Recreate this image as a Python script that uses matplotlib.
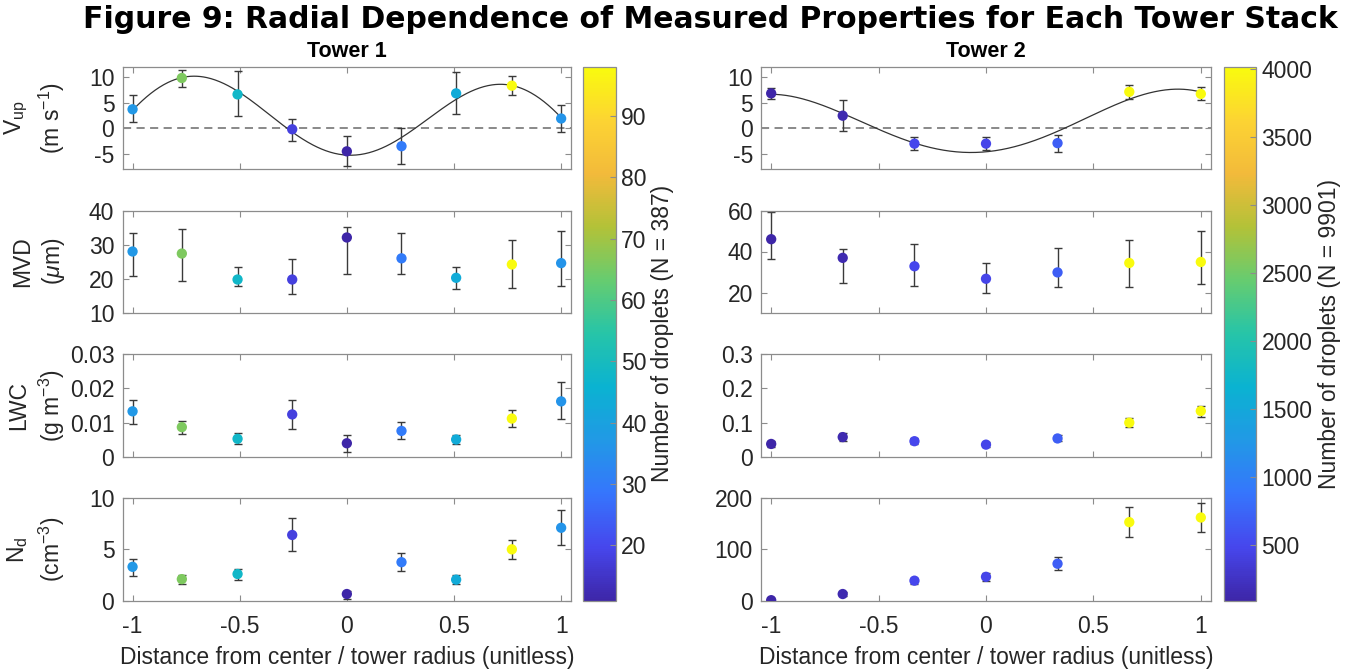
import numpy as np
import matplotlib
matplotlib.use("Agg")
import matplotlib.pyplot as plt
from matplotlib.colors import LinearSegmentedColormap

plt.rcParams['font.family'] = ['Liberation Sans', 'DejaVu Sans']
plt.rcParams['mathtext.fontset'] = 'custom'
plt.rcParams['mathtext.rm'] = 'Liberation Sans'
plt.rcParams['mathtext.it'] = 'Liberation Sans:italic'

# ---------------- data ----------------
x1 = [-1.0, -0.77, -0.51, -0.255, 0.0, 0.255, 0.51, 0.77, 1.0]
n1 = [37, 66, 48, 18, 11, 30, 43, 98, 36]
vup1 = [3.7, 9.8, 6.6, -0.2, -4.5, -3.5, 6.8, 8.3, 1.9]
vup1_lo = [1.3, 8.1, 2.4, -2.4, -7.4, -6.9, 2.7, 6.5, -0.7]
vup1_hi = [6.4, 11.4, 11.1, 1.8, -1.5, 0.1, 11.0, 10.1, 4.5]
mvd1 = [28.0, 27.4, 19.8, 19.8, 32.1, 26.0, 20.3, 24.2, 24.6]
mvd1_lo = [20.8, 19.3, 17.9, 15.6, 21.3, 21.4, 17.0, 17.2, 18.0]
mvd1_hi = [33.5, 34.5, 23.6, 25.9, 35.1, 33.5, 23.6, 31.3, 33.9]
lwc1 = [0.0133, 0.0087, 0.0053, 0.0124, 0.0040, 0.0076, 0.0051, 0.0112, 0.0162]
lwc1_lo = [0.0096, 0.0067, 0.0038, 0.0083, 0.0015, 0.0053, 0.0038, 0.0086, 0.0110]
lwc1_hi = [0.0166, 0.0106, 0.0070, 0.0166, 0.0065, 0.0101, 0.0065, 0.0138, 0.0218]
nd1 = [3.3, 2.1, 2.6, 6.4, 0.65, 3.75, 2.05, 5.0, 7.1]
nd1_lo = [2.45, 1.6, 2.0, 4.8, 0.15, 2.9, 1.6, 4.05, 5.45]
nd1_hi = [4.1, 2.5, 3.1, 8.1, 0.95, 4.65, 2.5, 5.95, 8.8]

x2 = [-1.0, -0.667, -0.333, 0.0, 0.333, 0.667, 1.0]
n2 = [90, 141, 480, 470, 680, 4020, 4020]
vup2 = [6.8, 2.45, -3.0, -3.0, -2.9, 7.1, 6.7]
vup2_lo = [5.7, -0.5, -4.2, -4.2, -4.6, 5.8, 5.5]
vup2_hi = [7.8, 5.5, -1.8, -1.8, -1.3, 8.4, 8.0]
mvd2 = [46.0, 36.9, 32.8, 26.7, 29.8, 34.4, 34.9]
mvd2_lo = [36.4, 24.6, 23.1, 19.8, 22.8, 22.8, 24.3]
mvd2_hi = [59.5, 41.0, 43.9, 34.6, 41.8, 45.4, 50.1]
lwc2 = [0.038, 0.058, 0.046, 0.036, 0.054, 0.100, 0.134]
lwc2_lo = [0.029, 0.047, 0.038, 0.029, 0.046, 0.087, 0.117]
lwc2_hi = [0.047, 0.069, 0.054, 0.043, 0.064, 0.113, 0.150]
nd2 = [1.0, 13.0, 39.0, 46.5, 72.0, 153.0, 162.0]
nd2_lo = [0.0, 10.0, 32.0, 38.0, 59.0, 125.0, 134.0]
nd2_hi = [2.5, 16.0, 45.0, 54.0, 86.0, 182.0, 190.0]

tower_titles = ["Tower 1", "Tower 2"]
suptitle = "Figure 9: Radial Dependence of Measured Properties for Each Tower Stack"
ylabels = ["V$_{\\mathrm{up}}$\n(m s$^{-1}$)", "MVD\n($\\mathit{\\mu}$m)",
           "LWC\n(g m$^{-3}$)", "N$_{\\mathrm{d}}$\n(cm$^{-3}$)"]
xlabel = "Distance from center / tower radius (unitless)"
cbar_labels = ["Number of droplets (N = 387)", "Number of droplets (N = 9901)"]
ylims1 = [(-8, 12), (10, 40), (0, 0.03), (0, 10)]
yticks1 = [[-5, 0, 5, 10], [10, 20, 30, 40], [0, 0.01, 0.02, 0.03], [0, 5, 10]]
yticklabels1 = [["-5", "0", "5", "10"], ["10", "20", "30", "40"], ["0", "0.01", "0.02", "0.03"], ["0", "5", "10"]]
ylims2 = [(-8, 12), (10, 60), (0, 0.3), (0, 200)]
yticks2 = [[-5, 0, 5, 10], [20, 40, 60], [0, 0.1, 0.2, 0.3], [0, 100, 200]]
yticklabels2 = [["-5", "0", "5", "10"], ["20", "40", "60"], ["0", "0.1", "0.2", "0.3"], ["0", "100", "200"]]
xticks = [-1, -0.5, 0, 0.5, 1]
xticklabels = ["-1", "-0.5", "0", "0.5", "1"]
cticks1 = [20, 30, 40, 50, 60, 70, 80, 90]
cticks2 = [500, 1000, 1500, 2000, 2500, 3000, 3500, 4000]

parula_stops = [(0.2422, 0.1504, 0.6603), (0.2759, 0.2780, 0.9300), (0.2100, 0.4600, 0.9900),
                (0.1300, 0.6000, 0.9000), (0.0400, 0.7000, 0.8200), (0.1500, 0.7700, 0.6600),
                (0.4000, 0.8000, 0.4400), (0.7000, 0.7600, 0.2200), (0.9500, 0.7300, 0.2300),
                (0.9900, 0.8300, 0.2000), (0.9763, 0.9831, 0.0538)]
parula = LinearSegmentedColormap.from_list("parula", parula_stops)


# ------- least-squares sinusoidal fit (offset + slow curvature + sine) -------
def sine_fit(x, y, xx):
    x = np.asarray(x, float)
    y = np.asarray(y, float)
    best = None
    for w in np.linspace(2.0, 6.0, 801):
        design = lambda t: np.column_stack([np.ones_like(t), t, t ** 2,
                                            np.cos(w * t), np.sin(w * t)])
        coef, *_ = np.linalg.lstsq(design(x), y, rcond=None)
        sse = np.sum((design(x) @ coef - y) ** 2)
        if best is None or sse < best[0]:
            best = (sse, design(xx) @ coef)
    return best[1]


W, H = 1349, 671
fig = plt.figure(figsize=(W / 100, H / 100), dpi=100)
spine_c = '#8c8c8c'
text_c = '#262626'
FS = 16.5

rows_px = [(66.7, 169.3), (210.5, 313.0), (354.0, 457.0), (498.0, 600.7)]
cols_px = [(122.7, 571.0), (761.3, 1210.7)]
cbar_px = [(583.3, 615.7), (1224.0, 1256.0)]

towers = [
    dict(x=x1, n=n1, series=[(vup1, vup1_lo, vup1_hi), (mvd1, mvd1_lo, mvd1_hi),
                             (lwc1, lwc1_lo, lwc1_hi), (nd1, nd1_lo, nd1_hi)],
         ylims=ylims1, yticks=yticks1, ytl=yticklabels1, cticks=cticks1),
    dict(x=x2, n=n2, series=[(vup2, vup2_lo, vup2_hi), (mvd2, mvd2_lo, mvd2_hi),
                             (lwc2, lwc2_lo, lwc2_hi), (nd2, nd2_lo, nd2_hi)],
         ylims=ylims2, yticks=yticks2, ytl=yticklabels2, cticks=cticks2),
]

for ti, tw in enumerate(towers):
    cx0, cx1 = cols_px[ti]
    xarr = np.array(tw['x'])
    narr = np.array(tw['n'])
    sc = None
    for ri in range(4):
        ry0, ry1 = rows_px[ri]
        ax = fig.add_axes([cx0 / W, 1 - ry1 / H, (cx1 - cx0) / W, (ry1 - ry0) / H])
        y, lo, hi = [np.array(v) for v in tw['series'][ri]]
        if ri == 0:
            ax.axhline(0, color='#808080', ls=(0, (4.5, 3)), lw=1.3, zorder=1)
            xx = np.linspace(-1, 1, 400)
            ax.plot(xx, sine_fit(xarr, y, xx), color='#333333', lw=0.9, zorder=2)
        ax.errorbar(xarr, y, yerr=[y - lo, hi - y], fmt='none', ecolor='#3a3a3a',
                    elinewidth=1.0, capsize=3.0, capthick=1.0, zorder=2)
        sc = ax.scatter(xarr, y, c=narr, cmap=parula, vmin=narr.min(), vmax=narr.max(),
                        s=55, edgecolors='none', zorder=3)
        ax.set_xlim(-1.046, 1.046)
        ax.set_ylim(*tw['ylims'][ri])
        ax.set_xticks(xticks)
        ax.set_yticks(tw['yticks'][ri])
        ax.set_yticklabels(tw['ytl'][ri])
        if ri == 3:
            ax.set_xticklabels(xticklabels)
            ax.set_xlabel(xlabel, fontsize=FS, color=text_c, labelpad=6)
        else:
            ax.set_xticklabels([])
        ax.tick_params(direction='in', top=True, right=True, length=4, width=0.8,
                       color=spine_c, labelsize=FS, labelcolor=text_c)
        ax.tick_params(axis='x', pad=10)
        ax.tick_params(axis='y', pad=6)
        for s in ax.spines.values():
            s.set_color(spine_c)
            s.set_linewidth(0.9)
        if ti == 0:
            ax.set_ylabel(ylabels[ri], fontsize=FS, color=text_c, linespacing=1.3)
            ax.yaxis.set_label_coords((67 - cx0) / (cx1 - cx0), 0.5)
        if ri == 0:
            ax.set_title(tower_titles[ti], fontsize=15.5, fontweight='bold', pad=7)
    bx0, bx1 = cbar_px[ti]
    cax = fig.add_axes([bx0 / W, 1 - rows_px[3][1] / H, (bx1 - bx0) / W,
                        (rows_px[3][1] - rows_px[0][0]) / H])
    cb = fig.colorbar(sc, cax=cax)
    cb.set_ticks(tw['cticks'])
    cb.outline.set_edgecolor(spine_c)
    cb.outline.set_linewidth(0.9)
    cax.tick_params(direction='in', length=4, width=0.8, color=spine_c,
                    labelsize=FS, labelcolor=text_c, pad=4)
    cb.set_label(cbar_labels[ti], fontsize=FS, color=text_c)
    lx = 651 if ti == 0 else 1318
    cax.yaxis.set_label_coords((lx - bx0) / (bx1 - bx0), 0.5)

fig.suptitle(suptitle, family='DejaVu Sans', fontweight='bold', fontsize=21.5,
             x=710 / W, y=0.992, va='top')
fig.savefig("out.png", dpi=100)
